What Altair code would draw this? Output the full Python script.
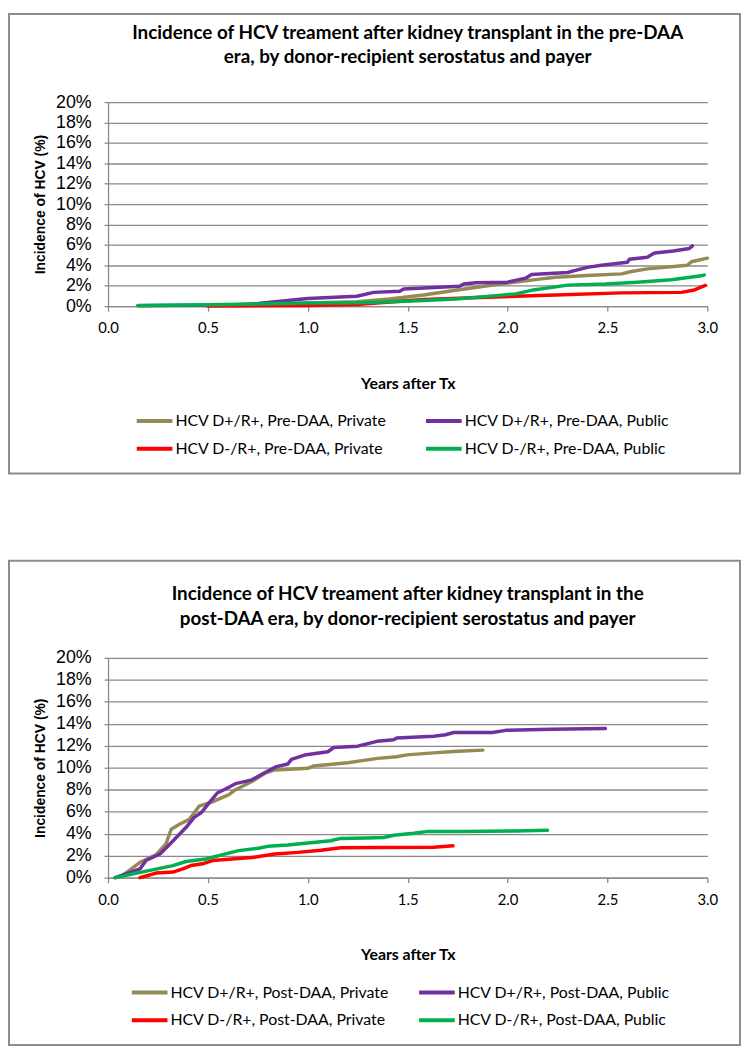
import altair as alt
import pandas as pd

# ---------------- data ----------------
X_TICKS = [0.0, 0.5, 1.0, 1.5, 2.0, 2.5, 3.0]
Y_TICKS = [0, 2, 4, 6, 8, 10, 12, 14, 16, 18, 20]
OLIVE, PURPLE, RED, GREEN = "#948A54", "#7030A0", "#FF0000", "#00B050"

pre_names = ["HCV D+/R+, Pre-DAA, Private", "HCV D+/R+, Pre-DAA, Public",
             "HCV D-/R+, Pre-DAA, Private", "HCV D-/R+, Pre-DAA, Public"]
post_names = ["HCV D+/R+, Post-DAA, Private", "HCV D+/R+, Post-DAA, Public",
              "HCV D-/R+, Post-DAA, Private", "HCV D-/R+, Post-DAA, Public"]

pre_title = ["Incidence of HCV treament after kidney transplant in the pre-DAA",
             "era, by donor-recipient serostatus and payer"]
post_title = ["Incidence of HCV treament after kidney transplant in the",
              "post-DAA era, by donor-recipient serostatus and payer"]

# pre-DAA era
pre_olive_x = [0.15, 0.6, 0.9, 1.0, 1.245, 1.41, 1.58, 1.74, 1.9, 2.0, 2.16, 2.24, 2.4, 2.57, 2.62, 2.70, 2.9, 2.92, 3.0]
pre_olive_y = [0.05, 0.08, 0.2, 0.3, 0.42, 0.7, 1.1, 1.55, 2.0, 2.26, 2.65, 2.84, 3.0, 3.16, 3.4, 3.65, 4.0, 4.35, 4.7]
pre_purple_x = [0.15, 0.6, 0.75, 0.9, 1.0, 1.245, 1.33, 1.46, 1.48, 1.76, 1.78, 1.84, 2.0, 2.09, 2.12, 2.3, 2.34,
                2.4, 2.47, 2.6, 2.61, 2.70, 2.735, 2.83, 2.91, 2.925]
pre_purple_y = [0.05, 0.1, 0.25, 0.55, 0.75, 0.97, 1.35, 1.45, 1.68, 1.94, 2.16, 2.3, 2.35, 2.74, 3.1, 3.3, 3.5,
                3.8, 4.0, 4.3, 4.6, 4.8, 5.2, 5.4, 5.65, 5.9]
pre_red_x = [0.5, 1.0, 1.245, 1.58, 1.9, 2.24, 2.57, 2.87, 2.93, 2.99]
pre_red_y = [0.0, 0.06, 0.16, 0.65, 0.87, 1.1, 1.3, 1.35, 1.55, 2.03]
pre_green_x = [0.15, 0.5, 1.0, 1.245, 1.49, 1.74, 1.94, 2.04, 2.12, 2.3, 2.49, 2.65, 2.82, 2.97, 2.985]
pre_green_y = [0.06, 0.13, 0.3, 0.32, 0.48, 0.7, 1.03, 1.2, 1.55, 2.06, 2.16, 2.35, 2.58, 2.97, 3.06]

# post-DAA era
post_olive_x = [0.08, 0.16, 0.24, 0.29, 0.316, 0.357, 0.407, 0.456, 0.522, 0.605, 0.638, 0.72, 0.786, 0.835,
                1.0, 1.03, 1.2, 1.35, 1.445, 1.495, 1.63, 1.73, 1.876]
post_olive_y = [0.3, 1.4, 2.07, 3.06, 4.4, 4.86, 5.3, 6.5, 6.9, 7.55, 8.0, 8.75, 9.5, 9.8,
                9.95, 10.16, 10.46, 10.85, 11.0, 11.17, 11.35, 11.47, 11.6]
post_purple_x = [0.036, 0.16, 0.19, 0.26, 0.31, 0.39, 0.43, 0.47, 0.506, 0.547, 0.588, 0.638, 0.72, 0.786,
                 0.843, 0.9, 0.918, 0.984, 1.1, 1.13, 1.25, 1.346, 1.43, 1.445, 1.63, 1.69, 1.73, 1.925,
                 1.99, 2.22, 2.49]
post_purple_y = [0.0, 0.8, 1.56, 2.16, 3.06, 4.56, 5.46, 5.97, 6.8, 7.7, 8.07, 8.55, 8.9, 9.57,
                 10.1, 10.34, 10.76, 11.15, 11.45, 11.84, 11.96, 12.4, 12.55, 12.7, 12.87, 13.0, 13.2, 13.2,
                 13.4, 13.5, 13.56]
post_red_x = [0.16, 0.19, 0.24, 0.325, 0.374, 0.415, 0.473, 0.522, 0.62, 0.72, 0.835, 0.95, 1.066, 1.165,
              1.346, 1.63, 1.727]
post_red_y = [0.0, 0.15, 0.42, 0.51, 0.81, 1.1, 1.26, 1.56, 1.7, 1.83, 2.16, 2.3, 2.5, 2.73,
              2.74, 2.76, 2.9]
post_green_x = [0.036, 0.127, 0.21, 0.325, 0.39, 0.49, 0.588, 0.654, 0.753, 0.8, 0.9, 1.0, 1.115, 1.165,
                1.296, 1.38, 1.43, 1.53, 1.594, 1.79, 2.04, 2.2]
post_green_y = [0.0, 0.36, 0.66, 1.1, 1.47, 1.7, 2.16, 2.46, 2.67, 2.85, 2.97, 3.15, 3.36, 3.57,
                3.6, 3.65, 3.86, 4.04, 4.19, 4.19, 4.25, 4.31]

# ---------------- styling ----------------
GRID = "#898989"
CAL = "Lato"
ARIAL = "Liberation Sans"
PLOT_W = 605


def build_df(names, xs_list, ys_list):
    rows = []
    for name, xs, ys in zip(names, xs_list, ys_list):
        for xv, yv in zip(xs, ys):
            rows.append({"series": name, "x": xv, "y": yv})
    return pd.DataFrame(rows)


def panel(names, xs_list, ys_list, title_lines, plot_h, box_top, box_bottom,
          legend_x, legend_y, row_pad, col_pad, title_offset):
    df = build_df(names, xs_list, ys_list)
    # legend fills column by column: order so rows read (olive, purple) / (red, green)
    leg_domain = [names[0], names[2], names[1], names[3]]
    leg_range = [OLIVE, RED, PURPLE, GREEN]
    lines = alt.Chart(df).mark_line(strokeWidth=3.5, strokeJoin="round", strokeCap="round").encode(
        x=alt.X("x:Q", scale=alt.Scale(domain=[0, 3], nice=False),
                axis=alt.Axis(values=X_TICKS, format=".1f", title="Years after Tx", grid=False,
                              domainColor=GRID, domainWidth=1.3, tickColor=GRID, tickWidth=1.3, tickSize=5,
                              labelPadding=10, labelFont=CAL, labelFontSize=15, labelColor="#000",
                              labelFlush=False, titleFont=CAL, titleFontWeight="bold", titleFontSize=16,
                              titleColor="#000", titlePadding=40)),
        y=alt.Y("y:Q", scale=alt.Scale(domain=[0, 20], nice=False),
                axis=alt.Axis(values=Y_TICKS, labelExpr="datum.value + '%'", title="Incidence of HCV (%)",
                              grid=True, gridColor=GRID, gridWidth=1.3, domainColor=GRID, domainWidth=1.3,
                              tickColor=GRID, tickWidth=1.3, tickSize=4, labelPadding=13, labelFont=ARIAL,
                              labelFontSize=18, labelColor="#000", titleFont=ARIAL, titleFontSize=14,
                              titleFontWeight="bold", titleColor="#000", titlePadding=8)),
        color=alt.Color("series:N", scale=alt.Scale(domain=leg_domain, range=leg_range),
                        legend=alt.Legend(orient="none", legendX=legend_x, legendY=legend_y, columns=2,
                                          symbolType="stroke", symbolSize=1296, symbolStrokeWidth=4,
                                          labelFont=CAL, labelFontSize=16, labelColor="#000",
                                          labelOffset=1, rowPadding=row_pad, columnPadding=col_pad,
                                          title=None, padding=0, labelLimit=400)),
    )
    box = alt.Chart(pd.DataFrame({"k": [0]})).mark_rect(
        fillOpacity=0, stroke="#8c8c8c", strokeWidth=2
    ).encode(x=alt.value(-100), x2=alt.value(638), y=alt.value(box_top), y2=alt.value(box_bottom))
    return alt.layer(box, lines).properties(
        width=PLOT_W, height=plot_h,
        title=alt.Title(title_lines, font=CAL, fontSize=19, fontWeight="bold", color="#000",
                        anchor="middle", baseline="top", lineHeight=25, offset=title_offset),
    )


top = panel(pre_names, [pre_olive_x, pre_purple_x, pre_red_x, pre_green_x],
            [pre_olive_y, pre_purple_y, pre_red_y, pre_green_y], pre_title,
            plot_h=206, box_top=-89, box_bottom=375,
            legend_x=27, legend_y=302, row_pad=-10, col_pad=31, title_offset=-55)
bottom = panel(post_names, [post_olive_x, post_purple_x, post_red_x, post_green_x],
               [post_olive_y, post_purple_y, post_red_y, post_green_y], post_title,
               plot_h=222, box_top=-98, box_bottom=391,
               legend_x=22, legend_y=318, row_pad=-7, col_pad=22, title_offset=-70)

chart = (
    alt.vconcat(top, bottom, spacing=86)
    .resolve_scale(color="independent")
    .resolve_legend(color="independent")
    .properties(padding=0)
    .configure_view(stroke=None)
)
chart.save("out.html", embed_options={"renderer": "svg", "actions": False})
